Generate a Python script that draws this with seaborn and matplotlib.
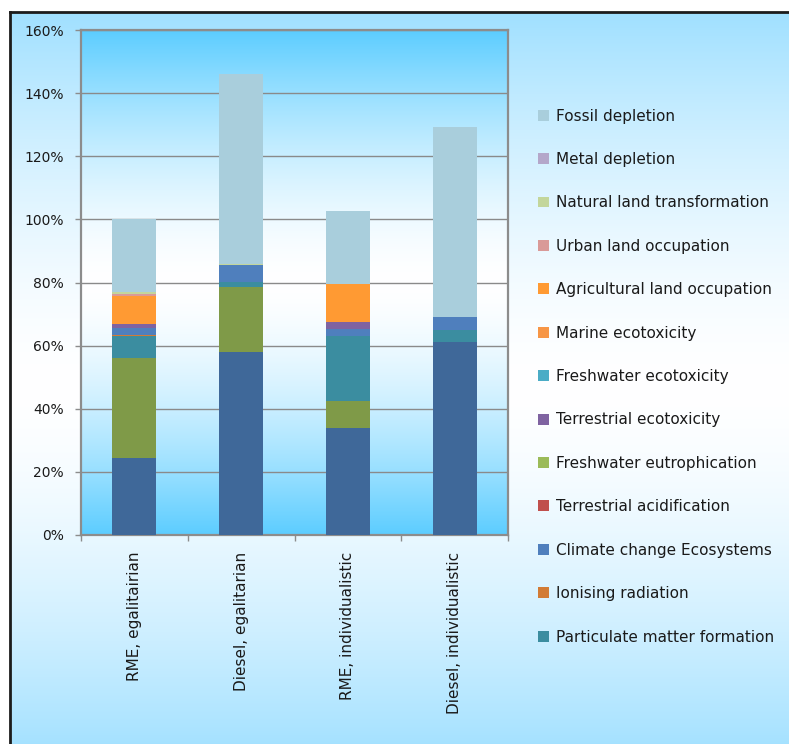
import numpy as np
import matplotlib
matplotlib.use("Agg")
import matplotlib.pyplot as plt
from matplotlib.patches import Patch
from matplotlib.ticker import FixedLocator, FuncFormatter
import seaborn as sns

# ---------------------------------------------------------
# DATA (percent of RME, egalitarian total)
# ---------------------------------------------------------
scenarios = ["RME, egalitairian", "Diesel, egalitarian",
             "RME, individualistic", "Diesel, individualistic"]

# stacked from the bottom up
climate_human_health = [24.4, 57.9, 33.8, 61.0]
human_toxicity = [31.6, 20.8, 8.6, 0.0]
particulate_matter = [7.0, 1.4, 20.7, 3.8]
ionising_radiation = [0.3, 0.0, 0.0, 0.0]
climate_ecosystems = [2.2, 5.3, 2.3, 4.4]
terrestrial_acid = [0.0, 0.0, 0.0, 0.0]
freshwater_eutro = [0.0, 0.0, 0.0, 0.0]
terrestrial_ecotox = [1.3, 0.0, 2.2, 0.0]
freshwater_ecotox = [0.0, 0.0, 0.0, 0.0]
marine_ecotox = [0.0, 0.0, 0.0, 0.0]
agri_land = [8.9, 0.0, 12.0, 0.0]
urban_land = [0.6, 0.0, 0.0, 0.0]
natural_land = [0.6, 0.6, 0.0, 0.0]
metal_depletion = [0.0, 0.0, 0.0, 0.0]
fossil_depletion = [23.1, 60.1, 23.1, 60.1]

# (label, values, colour, shown in legend)
layers = [
    ("Climate change Human Health", climate_human_health, "#3F6899", False),
    ("Human toxicity", human_toxicity, "#7F9A48", False),
    ("Particulate matter formation", particulate_matter, "#3B8DA0", True),
    ("Ionising radiation", ionising_radiation, "#D27B35", True),
    ("Climate change Ecosystems", climate_ecosystems, "#4F7FBD", True),
    ("Terrestrial acidification", terrestrial_acid, "#C0504D", True),
    ("Freshwater eutrophication", freshwater_eutro, "#9BBB59", True),
    ("Terrestrial ecotoxicity", terrestrial_ecotox, "#7F63A1", True),
    ("Freshwater ecotoxicity", freshwater_ecotox, "#4BACC6", True),
    ("Marine ecotoxicity", marine_ecotox, "#F79646", True),
    ("Agricultural land occupation", agri_land, "#FF9A33", True),
    ("Urban land occupation", urban_land, "#D99A98", True),
    ("Natural land transformation", natural_land, "#C3D69B", True),
    ("Metal depletion", metal_depletion, "#B4A7CA", True),
    ("Fossil depletion", fossil_depletion, "#A9CEDC", True),
]

# ---------------------------------------------------------
# FIGURE
# ---------------------------------------------------------
sns.set_theme(style="white")
plt.rcParams["font.family"] = ["DejaVu Sans"]
W, H = 789, 744
fig = plt.figure(figsize=(W / 100, H / 100), dpi=100, facecolor="white")


def vgrad(edge_rgb, n=400, power=1.6):
    t = np.abs(np.linspace(-1, 1, n)) ** power
    edge = np.array(edge_rgb) / 255.0
    img = (1 - t)[:, None] * 1.0 + t[:, None] * edge[None, :]
    return img[:, None, :]


# outer chart area with gradient and black frame (left/top only, rest is cut off)
bg = fig.add_axes([10 / W, -0.02, 1.05 - 10 / W, 1.02 - 12 / H])
bg.imshow(vgrad((160, 224, 255)), aspect="auto", extent=[0, 1, 0, 1])
bg.set_xticks([])
bg.set_yticks([])
for s in ["right", "bottom"]:
    bg.spines[s].set_visible(False)
for s in ["left", "top"]:
    bg.spines[s].set_color("#1c1c1c")
    bg.spines[s].set_linewidth(2)
bg.set_zorder(0)

ax = fig.add_axes([81 / W, 1 - 535 / H, 427 / W, 505 / H])
ax.set_zorder(1)
ax.imshow(vgrad((92, 205, 255)), aspect="auto",
          extent=[-0.5, 3.5, 0, 160], zorder=0)

# stacked bars: draw cumulative totals from the top layer down
cum = np.cumsum([np.array(v, dtype=float) for _, v, _, _ in layers], axis=0)
for i in range(len(layers) - 1, -1, -1):
    sns.barplot(x=scenarios, y=cum[i], color=layers[i][2], width=0.41,
                saturation=1, ax=ax, zorder=3, linewidth=0)

ax.set_xlim(-0.5, 3.5)
ax.set_ylim(0, 160)
ax.yaxis.set_major_locator(FixedLocator(np.arange(0, 161, 20)))
ax.yaxis.set_major_formatter(FuncFormatter(lambda v, p: f"{v:.0f}%"))
ax.grid(axis="y", color="#8a8a8a", linewidth=1, zorder=1)
ax.set_axisbelow(True)
ax.set_xlabel("")
ax.set_ylabel("")

for s in ax.spines.values():
    s.set_color("#8c8c8c")
    s.set_linewidth(1.6)

ax.tick_params(axis="y", length=4.5, width=1, color="#8c8c8c", pad=8,
               labelsize=10, labelcolor="#1a1a1a", left=True)
ax.set_xticks(range(len(scenarios)))
ax.set_xticklabels(scenarios, rotation=90, va="top", ha="center")
ax.tick_params(axis="x", length=0, pad=12, labelsize=11, labelcolor="#1a1a1a")
ax.set_xticks(np.arange(-0.5, 3.6, 1), minor=True)
ax.tick_params(axis="x", which="minor", length=4.5, width=1,
               color="#8c8c8c", bottom=True)

# legend, top of stack first
handles = [Patch(facecolor=c, edgecolor="none", label=lab)
           for lab, _, c, show in reversed(layers) if show]
fig.legend(handles=handles, loc="upper left",
           bbox_to_anchor=(538 / W, 1 - 108.5 / H), frameon=False,
           fontsize=11, handlelength=0.72, handleheight=0.72,
           handletextpad=0.45, labelspacing=1.86, borderpad=0,
           borderaxespad=0, labelcolor="#1a1a1a")

fig.savefig("out.png", dpi=100, facecolor="white")
